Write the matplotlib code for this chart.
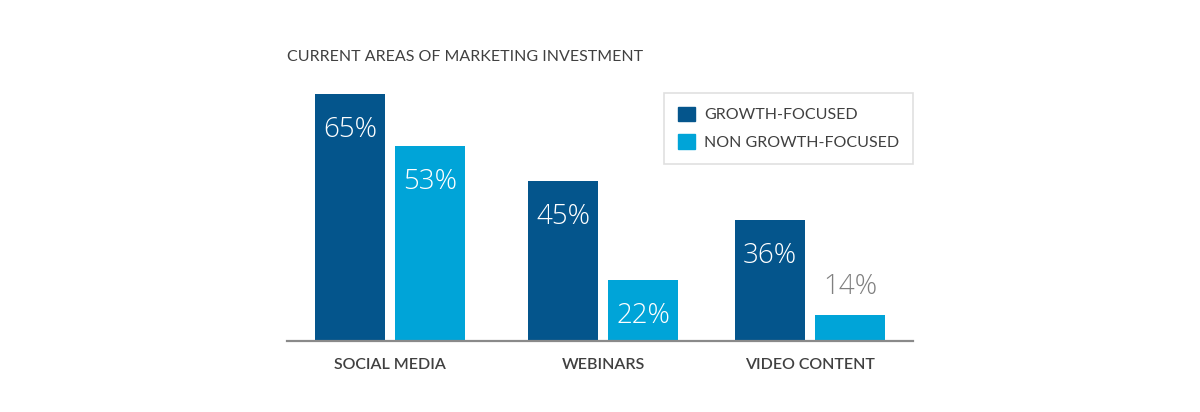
import matplotlib
matplotlib.use("Agg")
import matplotlib.pyplot as plt
import numpy as np
from matplotlib.patches import Patch

categories = ["SOCIAL MEDIA", "WEBINARS", "VIDEO CONTENT"]
growth = [65, 45, 36]
non_growth = [53, 22, 14]
series_names = ["GROWTH-FOCUSED", "NON GROWTH-FOCUSED"]
title = "CURRENT AREAS OF MARKETING INVESTMENT"

DARK = "#04558c"
LIGHT = "#00a4d8"
TXT = "#404040"

plt.rcParams['font.family'] = ['Lato', 'DejaVu Sans']

fig = plt.figure(figsize=(12, 4.12), dpi=100)
ax = fig.add_axes([287/1200, (412-341)/412, (913-287)/1200, (341-72.5)/412])

x = np.array([0, 1.015, 2.0])
w = 0.333
off = 0.19
ax.bar(x - off, growth, w, color=DARK, zorder=2)
ax.bar(x + off, non_growth, w, color=LIGHT, zorder=2)

ax.set_xlim(-0.49, 2.49)
ax.set_ylim(8, 70)

NUMFONT = dict(fontsize=20, fontweight="light", family=['Open Sans', 'DejaVu Sans'])
for xi, v in zip(x - off, growth):
    ax.text(xi, v - 8.3, f"{v}%", ha="center", va="center", color="white", **NUMFONT)
for xi, v in zip(x + off, non_growth):
    if v > 20:
        ax.text(xi, v - 8.3, f"{v}%", ha="center", va="center", color="white", **NUMFONT)
    else:
        ax.text(xi, v + 6.5, f"{v}%", ha="center", va="center", color="#808080", **NUMFONT)

for s in ["top", "right", "left"]:
    ax.spines[s].set_visible(False)
ax.spines["bottom"].set_color("#8a8a8a")
ax.spines["bottom"].set_linewidth(1.6)
ax.set_yticks([])
ax.set_xticks(x)
ax.set_xticklabels(categories, fontsize=11.5, color=TXT, fontweight="semibold")
ax.tick_params(axis="x", length=0, pad=12)

fig.text(287/1200, 1 - 57/412, title, ha="left", va="center", fontsize=11.5, color=TXT)

handles = [Patch(color=DARK), Patch(color=LIGHT)]
leg = ax.legend(handles, series_names, loc="upper right",
                bbox_to_anchor=(1.0, 1 - (93-72.5)/(341-72.5)),
                frameon=True, fancybox=False, fontsize=11.5,
                handlelength=1.05, handleheight=1.05, handletextpad=0.6,
                borderpad=0.85, labelspacing=0.75, borderaxespad=0)
leg.get_frame().set_edgecolor("#d8d8d8")
leg.get_frame().set_linewidth(1.2)
for t in leg.get_texts():
    t.set_color(TXT)

fig.savefig("out.png", dpi=100, facecolor="white")
